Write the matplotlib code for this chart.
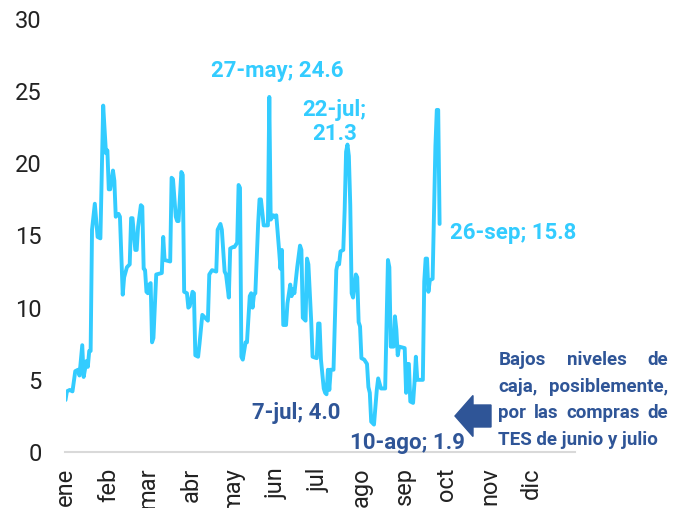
import matplotlib
matplotlib.use("Agg")
import matplotlib.pyplot as plt
import matplotlib.dates as mdates
from matplotlib.patches import FancyArrow
import pandas as pd

plt.rcParams["font.family"] = ["Roboto", "DejaVu Sans"]

# Saldo diario (billones de pesos)
fechas = [
    "2023-01-01", "2023-01-02", "2023-01-04", "2023-01-06", "2023-01-08", "2023-01-10",
    "2023-01-11", "2023-01-13", "2023-01-14", "2023-01-16", "2023-01-17", "2023-01-18",
    "2023-01-19", "2023-01-20", "2023-01-22", "2023-01-24", "2023-01-26", "2023-01-28",
    "2023-01-30", "2023-01-31", "2023-02-01", "2023-02-02", "2023-02-04", "2023-02-05",
    "2023-02-06", "2023-02-08", "2023-02-09", "2023-02-11", "2023-02-12", "2023-02-14",
    "2023-02-16", "2023-02-17", "2023-02-18", "2023-02-20", "2023-02-21", "2023-02-22",
    "2023-02-24", "2023-02-25", "2023-02-26", "2023-02-27", "2023-02-28", "2023-03-01",
    "2023-03-02", "2023-03-03", "2023-03-04", "2023-03-05", "2023-03-07", "2023-03-11",
    "2023-03-12", "2023-03-13", "2023-03-17", "2023-03-18", "2023-03-19", "2023-03-21",
    "2023-03-22", "2023-03-23", "2023-03-25", "2023-03-26", "2023-03-27", "2023-03-29",
    "2023-03-30", "2023-03-31", "2023-04-02", "2023-04-03", "2023-04-04", "2023-04-06",
    "2023-04-07", "2023-04-09", "2023-04-11", "2023-04-13", "2023-04-14", "2023-04-16",
    "2023-04-19", "2023-04-20", "2023-04-22", "2023-04-23", "2023-04-25", "2023-04-26",
    "2023-04-28", "2023-04-29", "2023-05-01", "2023-05-02", "2023-05-04", "2023-05-05",
    "2023-05-06", "2023-05-07", "2023-05-08", "2023-05-10", "2023-05-11", "2023-05-13",
    "2023-05-14", "2023-05-15", "2023-05-16", "2023-05-17", "2023-05-19", "2023-05-20",
    "2023-05-21", "2023-05-23", "2023-05-26", "2023-05-27", "2023-05-28", "2023-05-30",
    "2023-05-31", "2023-06-01", "2023-06-03", "2023-06-04", "2023-06-05", "2023-06-06",
    "2023-06-08", "2023-06-09", "2023-06-11", "2023-06-12", "2023-06-13", "2023-06-14",
    "2023-06-16", "2023-06-18", "2023-06-19", "2023-06-20", "2023-06-22", "2023-06-23",
    "2023-06-24", "2023-06-26", "2023-06-27", "2023-06-30", "2023-07-01", "2023-07-02",
    "2023-07-03", "2023-07-05", "2023-07-06", "2023-07-07", "2023-07-08", "2023-07-09",
    "2023-07-10", "2023-07-12", "2023-07-14", "2023-07-15", "2023-07-16", "2023-07-17",
    "2023-07-19", "2023-07-20", "2023-07-21", "2023-07-22", "2023-07-23", "2023-07-24",
    "2023-07-25", "2023-07-26", "2023-07-28", "2023-07-29", "2023-07-30", "2023-07-31",
    "2023-08-01", "2023-08-03", "2023-08-05", "2023-08-06", "2023-08-07", "2023-08-08",
    "2023-08-09", "2023-08-10", "2023-08-12", "2023-08-13", "2023-08-15", "2023-08-18",
    "2023-08-20", "2023-08-21", "2023-08-22", "2023-08-24", "2023-08-25", "2023-08-26",
    "2023-08-27", "2023-08-28", "2023-09-01", "2023-09-02", "2023-09-03", "2023-09-04",
    "2023-09-05", "2023-09-07", "2023-09-08", "2023-09-09", "2023-09-10", "2023-09-14",
    "2023-09-15", "2023-09-16", "2023-09-17", "2023-09-18", "2023-09-19", "2023-09-21",
    "2023-09-23", "2023-09-24", "2023-09-25", "2023-09-26",
]
saldo = [
    3.6, 4.2, 4.3, 4.2, 5.6, 5.7,
    5.3, 7.4, 5.2, 6.3, 5.9, 7.0,
    7.0, 15.4, 17.2, 14.9, 14.8, 24.0,
    20.7, 20.9, 18.2, 18.2, 19.5, 18.8,
    16.3, 16.5, 16.3, 10.9, 12.1, 12.8,
    13.0, 16.2, 16.2, 14.0, 14.0, 15.6,
    17.1, 17.0, 12.7, 12.6, 11.1, 11.0,
    11.6, 11.7, 7.6, 7.9, 12.3, 12.4,
    14.9, 13.3, 13.2, 19.0, 18.9, 16.3,
    16.0, 16.0, 19.4, 19.2, 11.1, 11.0,
    10.0, 10.1, 11.1, 11.0, 6.7, 6.6,
    7.5, 9.5, 9.3, 9.1, 12.3, 12.6,
    12.5, 15.4, 15.8, 15.4, 12.5, 12.3,
    10.7, 14.1, 14.2, 14.2, 14.5, 18.5,
    18.3, 6.6, 6.4, 7.6, 7.6, 10.8,
    11.0, 10.0, 10.9, 11.0, 15.8, 17.5,
    17.5, 15.7, 15.7, 24.6, 16.1, 16.4,
    16.3, 16.4, 14.0, 12.7, 14.0, 8.8,
    8.8, 10.3, 11.6, 10.8, 11.3, 11.0,
    12.8, 14.3, 14.0, 9.3, 9.1, 13.4,
    13.0, 9.1, 6.6, 6.5, 8.9, 8.9,
    6.4, 4.4, 4.1, 4.0, 5.7, 4.3,
    5.7, 5.7, 12.6, 13.1, 13.0, 13.9,
    14.0, 16.8, 20.8, 21.3, 20.5, 17.1,
    11.0, 10.7, 12.3, 12.1, 9.0, 8.7,
    6.5, 6.4, 6.1, 4.5, 4.1, 2.1,
    2.0, 1.9, 4.3, 5.1, 4.4, 4.4,
    13.3, 12.8, 7.3, 7.3, 9.4, 8.5,
    6.7, 7.3, 7.2, 4.1, 6.1, 6.1,
    3.5, 3.4, 4.8, 6.6, 5.0, 5.0,
    11.8, 13.4, 13.4, 11.1, 11.9, 12.0,
    21.2, 23.7, 23.7, 15.8,
]

meses = ["ene", "feb", "mar", "abr", "may", "jun", "jul", "ago", "sep", "oct", "nov", "dic"]
y_ticks = [0, 5, 10, 15, 20, 25, 30]

# Puntos destacados: (fecha, etiqueta, color, desplazamiento en puntos, alineación)
CYAN = "#33CCFF"
AZUL = "#2F5597"
destacados = [
    ("2023-05-27", "27-may; 24.6", CYAN, (6, 18.5), "center", "center"),
    ("2023-07-22", "22-jul;\n21.3", CYAN, (-9.5, 16), "center", "center"),
    ("2023-09-26", "26-sep; 15.8", CYAN, (7.5, -6.5), "left", "center"),
    ("2023-07-07", "7-jul; 4.0", AZUL, (-21.5, -13.5), "center", "center"),
    ("2023-08-10", "10-ago; 1.9", AZUL, (24, -13.3), "center", "center"),
]

nota = ["Bajos niveles de", "caja, posiblemente,", "por las compras de",
        "TES de junio y julio"]

W, H = 688, 508
fig = plt.figure(figsize=(W / 100, H / 100), dpi=100)
ax = fig.add_axes([65.5 / W, (H - 452) / H, (575 - 65.5) / W, (452 - 19) / H])

serie = pd.Series(saldo, index=pd.to_datetime(fechas))
ax.plot(serie.index, serie.values, color=CYAN, lw=2.8, solid_joinstyle="round",
        solid_capstyle="round")

ax.set_xlim(pd.Timestamp("2023-01-01"), pd.Timestamp("2024-01-01"))
ax.set_ylim(0, 30)
ax.set_xticks(pd.date_range("2023-01-01", periods=12, freq="MS"))
ax.set_xticklabels(meses, rotation=90, fontsize=17, color="#222222")
ax.set_yticks(y_ticks)
ax.set_yticklabels([str(v) for v in y_ticks], fontsize=17, color="#222222")
ax.tick_params(axis="both", length=0)
ax.tick_params(axis="x", pad=11)
ax.tick_params(axis="y", pad=17)
for lado in ("top", "right", "left"):
    ax.spines[lado].set_visible(False)
ax.spines["bottom"].set_color("#d9d9d9")
ax.spines["bottom"].set_linewidth(1.5)

for fecha, texto, color, off, ha, va in destacados:
    ts = pd.Timestamp(fecha)
    ax.annotate(texto, xy=(ts, serie[ts]), xytext=off, textcoords="offset points",
                ha=ha, va=va, color=color, fontsize=16, fontweight="bold",
                linespacing=1.1)

# Flecha hacia la zona de mínimos
flecha = FancyArrow(4.91, (H - 416) / 100, -0.36, 0, width=0.22, head_width=0.41,
                    head_length=0.18, length_includes_head=True, color=AZUL,
                    transform=fig.dpi_scale_trans)
fig.patches.append(flecha)

# Nota justificada
x_izq, x_der = 498.3, 668.3
bases = [365, 391.7, 418.3, 445]
fig.canvas.draw()
rend = fig.canvas.get_renderer()
estilo = dict(color=AZUL, fontsize=13.5, fontweight="bold", va="baseline", ha="left")
for i, linea in enumerate(nota):
    fy = 1 - bases[i] / H
    if i == len(nota) - 1:
        fig.text(x_izq / W, fy, linea, **estilo)
        continue
    palabras = linea.split()
    objs = [fig.text(0, fy, p, **estilo) for p in palabras]
    anchos = [o.get_window_extent(rend).width for o in objs]
    hueco = (x_der - x_izq - sum(anchos)) / (len(palabras) - 1)
    x = x_izq
    for o, a in zip(objs, anchos):
        o.set_x(x / W)
        x += a + hueco

fig.savefig("out.png", dpi=100)
